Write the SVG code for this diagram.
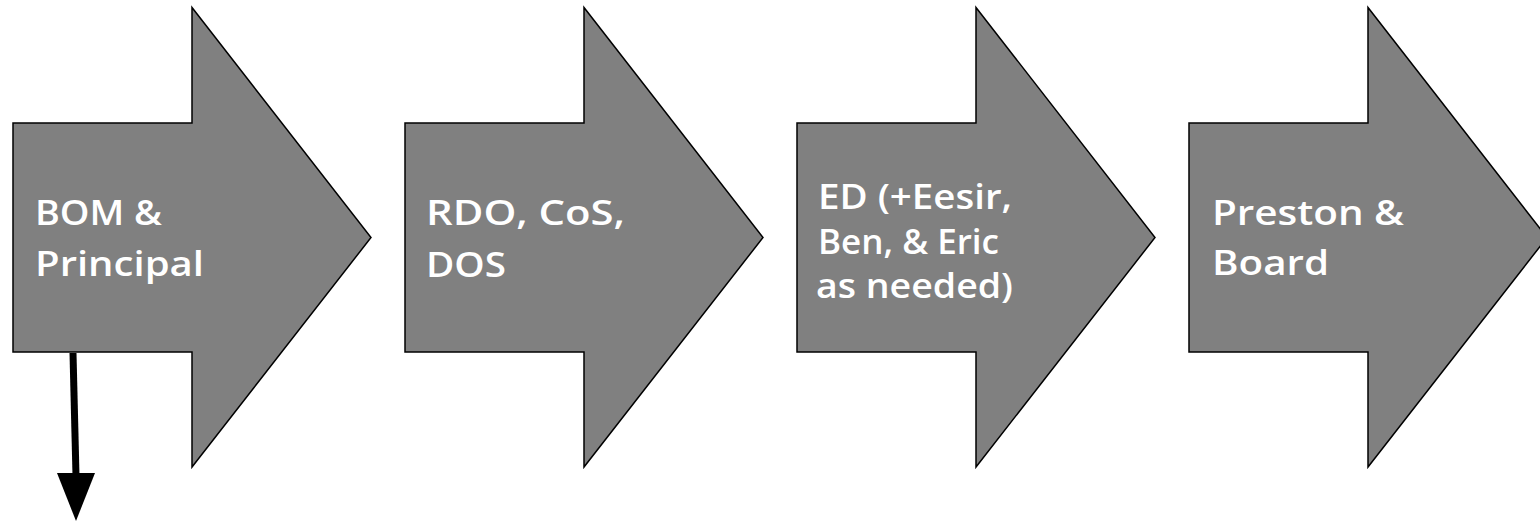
<svg xmlns="http://www.w3.org/2000/svg" width="1540" height="527" viewBox="0 0 1540 527">
<defs>
<style>
.shape{fill:#808080;stroke:#000;stroke-width:1.5;stroke-linejoin:miter}
.lbl{fill:#fff;font-family:"Open Sans","Noto Sans",sans-serif;font-weight:600;font-size:35px}
</style>
</defs>
<rect width="1540" height="527" fill="#fff"/>
<g id="node-bom">
<path class="shape" d="M13,123 H192 V7.5 L371,237.5 L192,467 V352 H13 Z"/>
<text class="lbl" x="35" y="225" textLength="127" lengthAdjust="spacingAndGlyphs">BOM &amp;</text>
<text class="lbl" x="35" y="276" textLength="169" lengthAdjust="spacingAndGlyphs">Principal</text>
</g>
<g id="node-rdo">
<path class="shape" d="M405,123 H584 V7.5 L763,237.5 L584,467 V352 H405 Z"/>
<text class="lbl" x="426" y="225" textLength="199" lengthAdjust="spacingAndGlyphs">RDO, CoS,</text>
<text class="lbl" x="426" y="277" textLength="80" lengthAdjust="spacingAndGlyphs">DOS</text>
</g>
<g id="node-ed">
<path class="shape" d="M797,123 H976 V7.5 L1155,237.5 L976,467 V352 H797 Z"/>
<text class="lbl" x="818" y="209" textLength="194" lengthAdjust="spacingAndGlyphs">ED (+Eesir,</text>
<text class="lbl" x="818" y="254" textLength="181" lengthAdjust="spacingAndGlyphs">Ben, &amp; Eric</text>
<text class="lbl" x="816" y="298" textLength="197" lengthAdjust="spacingAndGlyphs">as needed)</text>
</g>
<g id="node-preston">
<path class="shape" d="M1189,123 H1368 V7.5 L1547,237.5 L1368,467 V352 H1189 Z"/>
<text class="lbl" x="1212" y="225" textLength="192" lengthAdjust="spacingAndGlyphs">Preston &amp;</text>
<text class="lbl" x="1212" y="275" textLength="117" lengthAdjust="spacingAndGlyphs">Board</text>
</g>
<g id="connectors">
<line x1="73" y1="353" x2="76" y2="476" stroke="#000" stroke-width="7"/>
<polygon points="57,473 95,473 76,521" fill="#000"/>
</g>
</svg>
